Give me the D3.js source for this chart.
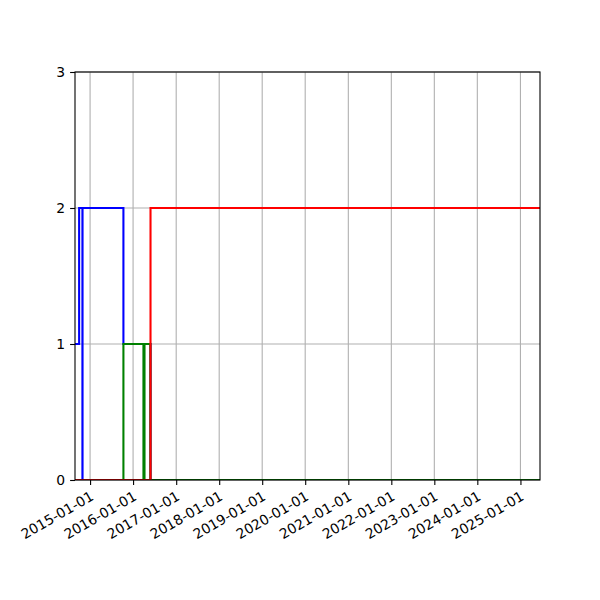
<!DOCTYPE html>
<html>
<head>
<meta charset="utf-8">
<script src="https://cdn.jsdelivr.net/npm/d3@7"></script>
<style>
  body { margin: 0; background: #fff; }
  text { font-family: "DejaVu Sans", sans-serif; font-size: 13.9px; fill: #000; }
</style>
</head>
<body>
<div id="chart"></div>
<script>

// x range of the axes
var xDomain = ["2014-08-26", "2025-06-16"];
var yTicks  = [0, 1, 2, 3];

// step series (where = post)
var blueDates   = ["2014-08-26", "2014-09-30", "2014-10-28", "2014-10-29", "2015-10-11", "2016-05-28", "2025-06-16"];
var blueValues  = [1, 2, 0, 2, 1, 0, 0];

var greenDates  = ["2014-08-26", "2015-10-11", "2016-03-29", "2016-04-07", "2016-05-27", "2025-06-16"];
var greenValues = [0, 1, 0, 1, 0, 0];

var redDates    = ["2014-08-26", "2016-05-28", "2025-06-16"];
var redValues   = [0, 2, 2];


function step_chart(options) {

  var width  = 600;
  var height = 600;
  var left = 75, right = 540, top = 72, bottom = 480;
  var parse = d3.utcParse("%Y-%m-%d");

  var x = d3.scaleUtc()
      .domain(xDomain.map(parse))
      .range([left, right]);

  var y = d3.scaleLinear()
      .domain([0, 3])
      .range([bottom, top]);

  var svgContainer = d3.select(options.id).append("svg")
      .attr("width",  width)
      .attr("height", height);

  svgContainer.append("rect")
      .attr("width", width)
      .attr("height", height)
      .attr("fill", "#fff");

  svgContainer.append("clipPath")
      .attr("id", "plot-clip")
    .append("rect")
      .attr("x", left)
      .attr("y", top)
      .attr("width",  right - left)
      .attr("height", bottom - top);

  var xTicks = d3.utcYear.range(d3.utcYear.ceil(x.domain()[0]), x.domain()[1]);

  // grid
  svgContainer.append("g")
      .selectAll("line")
      .data(xTicks)
      .enter().append("line")
      .attr("x1", function(d) { return x(d); })
      .attr("x2", function(d) { return x(d); })
      .attr("y1", top)
      .attr("y2", bottom)
      .attr("stroke", "#b0b0b0")
      .attr("stroke-width", 1.1);

  svgContainer.append("g")
      .selectAll("line")
      .data(yTicks)
      .enter().append("line")
      .attr("x1", left)
      .attr("x2", right)
      .attr("y1", function(d) { return y(d); })
      .attr("y2", function(d) { return y(d); })
      .attr("stroke", "#b0b0b0")
      .attr("stroke-width", 1.1);

  // step lines
  var line = d3.line()
      .x(function(d) { return x(d.date); })
      .y(function(d) { return y(d.value); })
      .curve(d3.curveStepAfter);

  var series = [
    { dates: blueDates,  values: blueValues,  color: "#0000ff" },
    { dates: greenDates, values: greenValues, color: "#008000" },
    { dates: redDates,   values: redValues,   color: "#ff0000" }
  ];

  series.forEach(function(s) {
    var pts = s.dates.map(function(d, i) { return { date: parse(d), value: s.values[i] }; });
    svgContainer.append("path")
        .datum(pts)
        .attr("clip-path", "url(#plot-clip)")
        .attr("d", line)
        .attr("fill", "none")
        .attr("stroke", s.color)
        .attr("stroke-width", 2.08);
  });

  // axes
  var xAxis = d3.axisBottom(x)
      .tickValues(xTicks)
      .tickSize(4.9)
      .tickPadding(4.9)
      .tickFormat(d3.utcFormat("%Y-%m-%d"));

  var gx = svgContainer.append("g")
      .attr("transform", "translate(0," + bottom + ")")
      .call(xAxis);

  gx.select(".domain").remove();
  gx.selectAll("text")
      .attr("text-anchor", "end")
      .attr("y", 0)
      .attr("dy", "0.72em")
      .attr("transform", "translate(-1,10.5) rotate(-30)");

  var yAxis = d3.axisLeft(y)
      .tickValues(yTicks)
      .tickSize(4.9)
      .tickPadding(4.9)
      .tickFormat(d3.format("d"));

  var gy = svgContainer.append("g")
      .attr("transform", "translate(" + left + ",0)")
      .call(yAxis);

  gy.select(".domain").remove();

  svgContainer.selectAll(".tick line")
      .attr("stroke", "#000")
      .attr("stroke-width", 1.1);
  svgContainer.selectAll(".tick text")
      .attr("font-family", "DejaVu Sans")
      .attr("font-size", "13.9px");

  // frame
  svgContainer.append("rect")
      .attr("x", left)
      .attr("y", top)
      .attr("width",  right - left)
      .attr("height", bottom - top)
      .attr("fill", "none")
      .attr("stroke", "#000")
      .attr("stroke-width", 1.1);

  return svgContainer;
}

step_chart({ id: "#chart" });

</script>
</body>
</html>
